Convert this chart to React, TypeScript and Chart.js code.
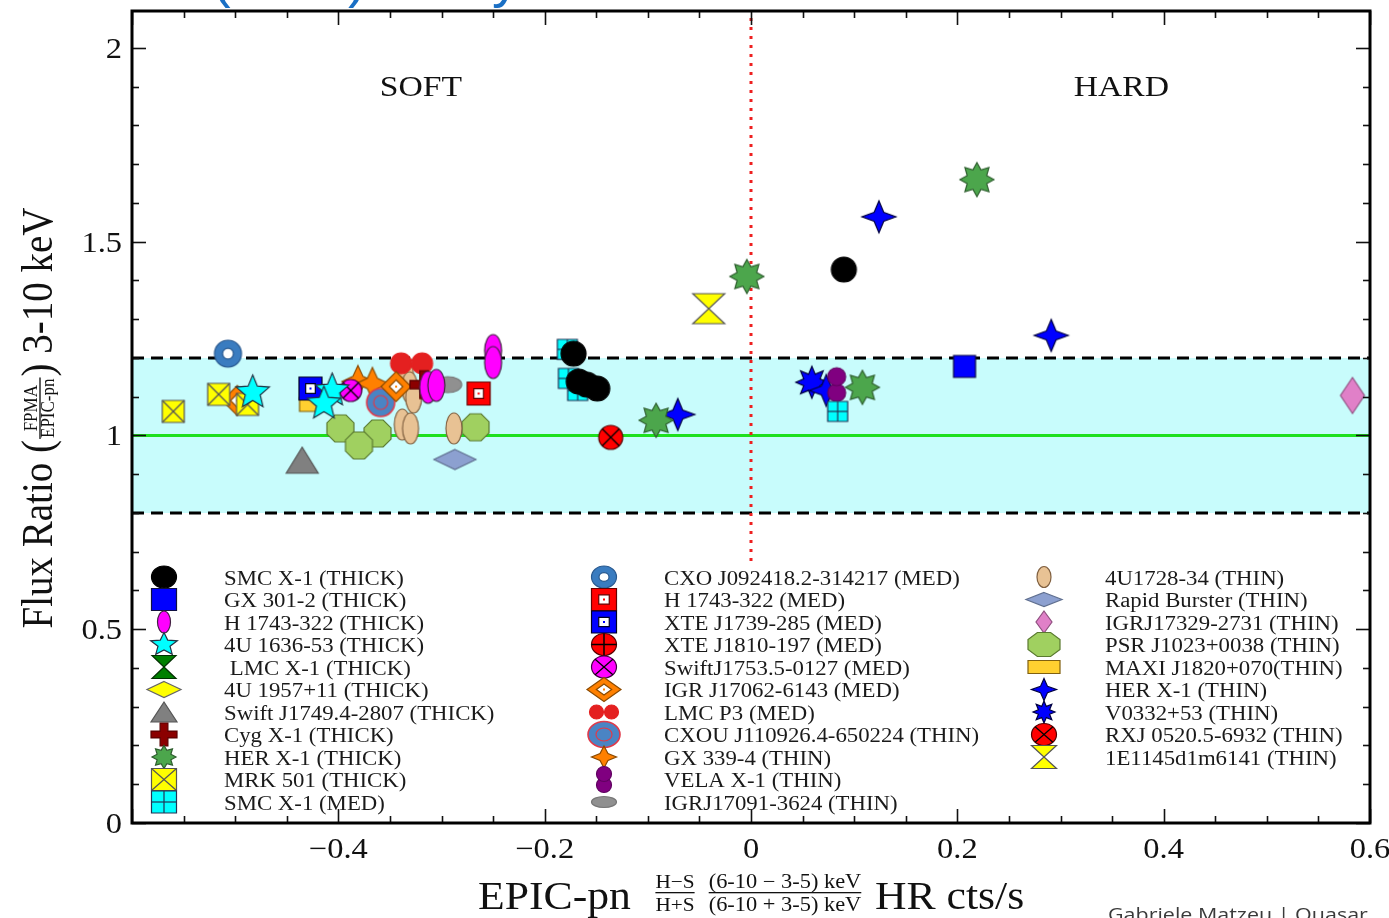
import React, { useEffect, useRef } from 'react';
import { Chart, registerables } from 'chart.js';

Chart.register(...registerables);

const W = 1389;
const H = 918;
const SERIF = "'Liberation Serif', 'Times New Roman', serif";
const SANS = "'Open Sans', 'Noto Sans', sans-serif";
const STRETCH = 1.12;

// Hardness ratio (x) vs FPMA / EPIC-pn flux ratio in 3-10 keV (y)
const smcX1Thick = [{ x: 0.09, y: 1.428 }, { x: -0.172, y: 1.211 }, { x: -0.167, y: 1.139 }, { x: -0.159, y: 1.131 }, { x: -0.149, y: 1.121 }];
const gx3012Thick = [{ x: 0.207, y: 1.178 }];
const h1743Thick = [{ x: -0.313, y: 1.124 }, { x: -0.305, y: 1.129 }, { x: -0.25, y: 1.219 }, { x: -0.25, y: 1.188 }];
const u1636Thick = [{ x: -0.483, y: 1.111 }, { x: -0.406, y: 1.116 }, { x: -0.414, y: 1.082 }];
const lmcX1Thick: { x: number; y: number }[] = [];
const u1957Thick: { x: number; y: number }[] = [];
const swiftJ1749Thick = [{ x: -0.435, y: 0.936 }];
const cygX1Thick = [{ x: -0.317, y: 1.131 }];
const herX1Thick = [{ x: 0.219, y: 1.66 }, { x: -0.004, y: 1.41 }, { x: -0.092, y: 1.039 }, { x: 0.108, y: 1.124 }];
const mrk501Thick = [{ x: -0.56, y: 1.062 }, { x: -0.516, y: 1.106 }, { x: -0.488, y: 1.08 }];
const smcX1Med = [{ x: -0.178, y: 1.222 }, { x: -0.177, y: 1.147 }, { x: -0.168, y: 1.116 }, { x: 0.084, y: 1.062 }];
const cxoJ0924Med = [{ x: -0.507, y: 1.211 }];
const h1743Med = [{ x: -0.264, y: 1.108 }];
const xteJ1739Med = [{ x: -0.427, y: 1.121 }];
const xteJ1810Med: { x: number; y: number }[] = [];
const swiftJ1753Med = [{ x: -0.388, y: 1.116 }];
const igrJ17062Med = [{ x: -0.498, y: 1.09 }, { x: -0.344, y: 1.126 }];
const lmcP3Med = [{ x: -0.329, y: 1.186 }];
const cxouJ1109Thin = [{ x: -0.359, y: 1.085 }];
const gx3394Thin = [{ x: -0.381, y: 1.139 }, { x: -0.367, y: 1.134 }];
const velaX1Thin = [{ x: 0.083, y: 1.131 }];
const igrJ17091Thin = [{ x: -0.294, y: 1.131 }];
const u1728Thin = [{ x: -0.335, y: 1.157 }, { x: -0.331, y: 1.124 }, { x: -0.327, y: 1.098 }, { x: -0.338, y: 1.028 }, { x: -0.33, y: 1.018 }, { x: -0.288, y: 1.018 }];
const rapidBursterThin = [{ x: -0.287, y: 0.938 }];
const igrJ17329Thin = [{ x: 0.583, y: 1.103 }];
const psrJ1023Thin = [{ x: -0.398, y: 1.018 }, { x: -0.362, y: 1.005 }, { x: -0.38, y: 0.974 }, { x: -0.267, y: 1.021 }];
const maxiJ1820Thin = [{ x: -0.425, y: 1.08 }];
const herX1Thin = [{ x: 0.124, y: 1.564 }, { x: 0.291, y: 1.258 }, { x: -0.071, y: 1.054 }, { x: 0.073, y: 1.116 }];
const v0332Thin = [{ x: 0.059, y: 1.137 }];
const rxj0520Thin = [{ x: -0.136, y: 0.995 }];
const e1145Thin = [{ x: -0.041, y: 1.327 }];

const seriesNames = [
  'SMC X-1 (THICK)', 'GX 301-2 (THICK)', 'H 1743-322 (THICK)', '4U 1636-53 (THICK)', ' LMC X-1 (THICK)',
  '4U 1957+11 (THICK)', 'Swift J1749.4-2807 (THICK)', 'Cyg X-1 (THICK)', 'HER X-1 (THICK)', 'MRK 501 (THICK)',
  'SMC X-1 (MED)', 'CXO J092418.2-314217 (MED)', 'H 1743-322 (MED)', 'XTE J1739-285 (MED)', 'XTE J1810-197 (MED)',
  'SwiftJ1753.5-0127 (MED)', 'IGR J17062-6143 (MED)', 'LMC P3 (MED)', 'CXOU J110926.4-650224 (THIN)', 'GX 339-4 (THIN)',
  'VELA X-1 (THIN)', 'IGRJ17091-3624 (THIN)', '4U1728-34 (THIN)', 'Rapid Burster (THIN)', 'IGRJ17329-2731 (THIN)',
  'PSR J1023+0038 (THIN)', 'MAXI J1820+070(THIN)', 'HER X-1 (THIN)', 'V0332+53 (THIN)', 'RXJ 0520.5-6932 (THIN)',
  '1E1145d1m6141 (THIN)',
];

const seriesPoints = [
  smcX1Thick, gx3012Thick, h1743Thick, u1636Thick, lmcX1Thick, u1957Thick, swiftJ1749Thick, cygX1Thick, herX1Thick,
  mrk501Thick, smcX1Med, cxoJ0924Med, h1743Med, xteJ1739Med, xteJ1810Med, swiftJ1753Med, igrJ17062Med, lmcP3Med,
  cxouJ1109Thin, gx3394Thin, velaX1Thin, igrJ17091Thin, u1728Thin, rapidBursterThin, igrJ17329Thin, psrJ1023Thin,
  maxiJ1820Thin, herX1Thin, v0332Thin, rxj0520Thin, e1145Thin,
];

// Reference levels
const bandLow = 0.8;
const bandHigh = 1.2;
const unity = 1;
const softHardBoundary = 0;
const boundaryTop = 2.1;
const boundaryBottom = 0.665;

const xMin = -0.6;
const xMax = 0.6;
const yMin = 0;
const yMax = 2.095;
const xTickValues = [-0.4, -0.2, 0, 0.2, 0.4, 0.6];
const yTickValues = [0, 0.5, 1, 1.5, 2];
const regionLabels = [
  { text: 'SOFT', x: -0.32, y: 1.875 },
  { text: 'HARD', x: 0.359, y: 1.875 },
];

type Marker = {
  kind: string; fill: string; stroke: string; w: number; h: number; lw: number; lh: number; inner?: number;
};

const markers: Marker[] = [
  { kind: 'circle', fill: '#000000', stroke: '#000000', w: 25, h: 25, lw: 25, lh: 22 },
  { kind: 'square', fill: '#0000ff', stroke: '#101040', w: 22, h: 22, lw: 25, lh: 22 },
  { kind: 'ellipse', fill: '#ff00ff', stroke: '#402040', w: 17, h: 32, lw: 13, lh: 22 },
  { kind: 'star5', fill: '#00ffff', stroke: '#223344', w: 35, h: 35, lw: 28, lh: 24 },
  { kind: 'hourglass', fill: '#008000', stroke: '#003000', w: 24, h: 24, lw: 24, lh: 23 },
  { kind: 'diamond', fill: '#ffff00', stroke: '#666666', w: 34, h: 16, lw: 34, lh: 16 },
  { kind: 'triangle', fill: '#808080', stroke: '#555555', w: 32, h: 26, lw: 26, lh: 20 },
  { kind: 'plus', fill: '#8b0000', stroke: '#5a0000', w: 28, h: 28, lw: 26, lh: 23 },
  { kind: 'burst8', fill: '#4ca64c', stroke: '#2e5e2e', w: 34, h: 34, lw: 24, lh: 23, inner: 0.62 },
  { kind: 'squareX', fill: '#ffff00', stroke: '#555555', w: 22, h: 22, lw: 25, lh: 22 },
  { kind: 'squareGrid', fill: '#00ffff', stroke: '#223355', w: 20, h: 20, lw: 25, lh: 22 },
  { kind: 'ring', fill: '#3a7cc0', stroke: '#2a5a90', w: 27, h: 27, lw: 25, lh: 22 },
  { kind: 'squareHole', fill: '#ff0000', stroke: '#660000', w: 23, h: 23, lw: 25, lh: 22 },
  { kind: 'squareHole', fill: '#0000ff', stroke: '#000022', w: 23, h: 23, lw: 25, lh: 22 },
  { kind: 'circlePlus', fill: '#ff0000', stroke: '#550000', w: 24, h: 24, lw: 25, lh: 22 },
  { kind: 'circleX', fill: '#ff00ff', stroke: '#440044', w: 22, h: 22, lw: 25, lh: 22 },
  { kind: 'diamondHole', fill: '#ff8000', stroke: '#8a4a00', w: 30, h: 30, lw: 34, lh: 24 },
  { kind: 'twinH', fill: '#e42020', stroke: '#e42020', w: 42, h: 21, lw: 29, lh: 14 },
  { kind: 'target', fill: '#4a84c4', stroke: '#e03a4a', w: 28, h: 28, lw: 32, lh: 26 },
  { kind: 'star4', fill: '#ff8000', stroke: '#8a4a00', w: 32, h: 32, lw: 25, lh: 22, inner: 0.45 },
  { kind: 'twinV', fill: '#800080', stroke: '#600060', w: 18, h: 34, lw: 15, lh: 26 },
  { kind: 'ellipse', fill: '#909090', stroke: '#777777', w: 28, h: 16, lw: 25, lh: 11 },
  { kind: 'ellipse', fill: '#e8c294', stroke: '#806040', w: 16, h: 31, lw: 14, lh: 21 },
  { kind: 'diamond', fill: '#8ca0d0', stroke: '#607090', w: 42, h: 20, lw: 36, lh: 14 },
  { kind: 'diamond', fill: '#e080c8', stroke: '#905080', w: 24, h: 36, lw: 16, lh: 22 },
  { kind: 'octagon', fill: '#a0d060', stroke: '#5a7a30', w: 27, h: 27, lw: 32, lh: 24 },
  { kind: 'rect', fill: '#ffd030', stroke: '#806010', w: 26, h: 14, lw: 32, lh: 13 },
  { kind: 'star4', fill: '#0000ff', stroke: '#000040', w: 34, h: 32, lw: 25, lh: 22, inner: 0.4 },
  { kind: 'burst8', fill: '#0000ff', stroke: '#000040', w: 32, h: 32, lw: 22, lh: 22, inner: 0.55 },
  { kind: 'circleX', fill: '#ff0000', stroke: '#550000', w: 24, h: 24, lw: 25, lh: 22 },
  { kind: 'hourglass', fill: '#ffff00', stroke: '#555555', w: 32, h: 30, lw: 25, lh: 23 },
];

function poly(ctx: CanvasRenderingContext2D, pts: number[][]) {
  ctx.beginPath();
  pts.forEach(([px, py], i) => (i ? ctx.lineTo(px, py) : ctx.moveTo(px, py)));
  ctx.closePath();
}

function starPts(cx: number, cy: number, rx: number, ry: number, n: number, inner: number, rot = -Math.PI / 2) {
  const pts: number[][] = [];
  for (let i = 0; i < 2 * n; i++) {
    const a = rot + (i * Math.PI) / n;
    const r = i % 2 === 0 ? 1 : inner;
    pts.push([cx + Math.cos(a) * rx * r, cy + Math.sin(a) * ry * r]);
  }
  return pts;
}

function ellipsePath(ctx: CanvasRenderingContext2D, cx: number, cy: number, rx: number, ry: number) {
  ctx.beginPath();
  ctx.ellipse(cx, cy, rx, ry, 0, 0, Math.PI * 2);
}

function drawMarker(ctx: CanvasRenderingContext2D, m: Marker, cx: number, cy: number, w: number, h: number) {
  const rx = w / 2;
  const ry = h / 2;
  ctx.save();
  ctx.lineWidth = 1.2;
  ctx.fillStyle = m.fill;
  ctx.strokeStyle = m.stroke;
  const fs = () => {
    ctx.fill();
    ctx.stroke();
  };
  const seg = (x1: number, y1: number, x2: number, y2: number) => {
    ctx.beginPath();
    ctx.moveTo(x1, y1);
    ctx.lineTo(x2, y2);
    ctx.stroke();
  };
  switch (m.kind) {
    case 'circle':
    case 'ellipse':
      ellipsePath(ctx, cx, cy, rx, ry);
      fs();
      break;
    case 'square':
    case 'rect':
      ctx.beginPath();
      ctx.rect(cx - rx, cy - ry, w, h);
      fs();
      break;
    case 'diamond':
      poly(ctx, [[cx, cy - ry], [cx + rx, cy], [cx, cy + ry], [cx - rx, cy]]);
      fs();
      break;
    case 'triangle':
      poly(ctx, [[cx, cy - ry], [cx + rx, cy + ry], [cx - rx, cy + ry]]);
      fs();
      break;
    case 'hourglass':
      poly(ctx, [[cx - rx, cy - ry], [cx + rx, cy - ry], [cx, cy], [cx + rx, cy + ry], [cx - rx, cy + ry], [cx, cy]]);
      fs();
      break;
    case 'plus': {
      const tx = w * 0.15;
      const ty = h * 0.15;
      poly(ctx, [
        [cx - tx, cy - ry], [cx + tx, cy - ry], [cx + tx, cy - ty], [cx + rx, cy - ty], [cx + rx, cy + ty],
        [cx + tx, cy + ty], [cx + tx, cy + ry], [cx - tx, cy + ry], [cx - tx, cy + ty], [cx - rx, cy + ty],
        [cx - rx, cy - ty], [cx - tx, cy - ty],
      ]);
      fs();
      break;
    }
    case 'star5':
      poly(ctx, starPts(cx, cy, rx, ry, 5, 0.45));
      fs();
      break;
    case 'star4':
      poly(ctx, starPts(cx, cy, rx, ry, 4, m.inner ?? 0.4));
      fs();
      break;
    case 'burst8':
      poly(ctx, starPts(cx, cy, rx, ry, 8, m.inner ?? 0.6));
      fs();
      break;
    case 'octagon': {
      const k = 1 / Math.cos(Math.PI / 8);
      const pts: number[][] = [];
      for (let i = 0; i < 8; i++) {
        const a = Math.PI / 8 + (i * Math.PI) / 4;
        pts.push([cx + Math.cos(a) * rx * k, cy + Math.sin(a) * ry * k]);
      }
      poly(ctx, pts);
      fs();
      break;
    }
    case 'squareX':
      ctx.beginPath();
      ctx.rect(cx - rx, cy - ry, w, h);
      fs();
      seg(cx - rx, cy - ry, cx + rx, cy + ry);
      seg(cx + rx, cy - ry, cx - rx, cy + ry);
      break;
    case 'squareGrid':
      ctx.beginPath();
      ctx.rect(cx - rx, cy - ry, w, h);
      fs();
      seg(cx, cy - ry, cx, cy + ry);
      seg(cx - rx, cy, cx + rx, cy);
      break;
    case 'ring':
      ellipsePath(ctx, cx, cy, rx, ry);
      fs();
      ctx.fillStyle = '#ffffff';
      ellipsePath(ctx, cx, cy, rx * 0.4, ry * 0.4);
      fs();
      break;
    case 'squareHole':
      ctx.beginPath();
      ctx.rect(cx - rx, cy - ry, w, h);
      fs();
      ctx.fillStyle = '#ffffff';
      ctx.beginPath();
      ctx.rect(cx - rx * 0.42, cy - ry * 0.42, w * 0.42, h * 0.42);
      fs();
      ctx.fillStyle = m.fill;
      ctx.fillRect(cx - 1, cy - 1, 2, 2);
      break;
    case 'circlePlus':
      ellipsePath(ctx, cx, cy, rx, ry);
      fs();
      ctx.strokeStyle = '#000000';
      ctx.lineWidth = 1.5;
      seg(cx - rx, cy, cx + rx, cy);
      seg(cx, cy - ry, cx, cy + ry);
      break;
    case 'circleX': {
      ellipsePath(ctx, cx, cy, rx, ry);
      fs();
      const d = Math.SQRT1_2;
      ctx.strokeStyle = '#000000';
      ctx.lineWidth = 1.2;
      seg(cx - rx * d, cy - ry * d, cx + rx * d, cy + ry * d);
      seg(cx + rx * d, cy - ry * d, cx - rx * d, cy + ry * d);
      break;
    }
    case 'diamondHole':
      poly(ctx, [[cx, cy - ry], [cx + rx, cy], [cx, cy + ry], [cx - rx, cy]]);
      fs();
      ctx.fillStyle = '#ffffff';
      poly(ctx, [[cx, cy - ry * 0.45], [cx + rx * 0.45, cy], [cx, cy + ry * 0.45], [cx - rx * 0.45, cy]]);
      fs();
      ctx.fillStyle = m.fill;
      ctx.fillRect(cx - 1, cy - 1, 2, 2);
      break;
    case 'twinH': {
      const r = ry;
      ellipsePath(ctx, cx - rx + r, cy, r, r);
      fs();
      ellipsePath(ctx, cx + rx - r, cy, r, r);
      fs();
      break;
    }
    case 'twinV': {
      const r = rx;
      ellipsePath(ctx, cx, cy + ry - r, r, r);
      fs();
      ellipsePath(ctx, cx, cy - ry + r, r, r);
      fs();
      break;
    }
    case 'target':
      ellipsePath(ctx, cx, cy, rx, ry);
      ctx.fill();
      ctx.lineWidth = 1.6;
      ctx.stroke();
      ctx.lineWidth = 1.2;
      ellipsePath(ctx, cx, cy, rx * 0.5, ry * 0.5);
      ctx.stroke();
      break;
    default:
      break;
  }
  ctx.restore();
}

function markerCanvas(m: Marker) {
  const c = document.createElement('canvas');
  c.width = m.w + 6;
  c.height = m.h + 6;
  const g = c.getContext('2d');
  if (g) drawMarker(g, m, c.width / 2, c.height / 2, m.w, m.h);
  return c;
}

// Text with the horizontal stretch used throughout the figure
function wideText(
  ctx: CanvasRenderingContext2D, text: string, x: number, y: number, font: string,
  align: 'left' | 'center' | 'right' = 'left', color = '#111111', sx = STRETCH,
) {
  ctx.save();
  ctx.font = font;
  ctx.fillStyle = color;
  ctx.textBaseline = 'alphabetic';
  ctx.textAlign = 'left';
  const w = ctx.measureText(text).width * sx;
  const left = align === 'left' ? x : align === 'center' ? x - w / 2 : x - w;
  ctx.translate(left, y);
  ctx.scale(sx, 1);
  ctx.fillText(text, 0, 0);
  ctx.restore();
  return w;
}

function fmtTick(v: number) {
  if (Math.abs(v) < 1e-9) return '0';
  const s = Number.isInteger(v) ? String(Math.abs(v)) : Math.abs(v).toFixed(1);
  return v < 0 ? '\u2212' + s : s;
}

const decorPlugin = {
  id: 'decor',
  afterDraw(chart: any) {
    const { ctx, chartArea: a, scales } = chart;
    const xs = scales.x;
    const ys = scales.y;
    ctx.save();

    // ticks on all four sides
    ctx.strokeStyle = '#111111';
    ctx.lineWidth = 1.6;
    const seg = (x1: number, y1: number, x2: number, y2: number) => {
      ctx.beginPath();
      ctx.moveTo(x1, y1);
      ctx.lineTo(x2, y2);
      ctx.stroke();
    };
    for (let i = 0; i <= 24; i++) {
      const v = xMin + i * 0.05;
      const len = i % 4 === 0 ? 14 : 7;
      const px = Math.round(xs.getPixelForValue(v)) + 0.5;
      seg(px, a.bottom, px, a.bottom - len);
      seg(px, a.top, px, a.top + len);
    }
    for (let i = 0; i <= 20; i++) {
      const v = yMin + i * 0.1;
      const len = i % 5 === 0 ? 14 : 7;
      const py = Math.round(ys.getPixelForValue(v)) + 0.5;
      seg(a.left, py, a.left + len, py);
      seg(a.right, py, a.right - len, py);
    }

    // frame
    ctx.strokeStyle = '#000000';
    ctx.lineWidth = 3;
    ctx.strokeRect(a.left, a.top, a.right - a.left, a.bottom - a.top);

    // tick labels
    const tickFont = `29px ${SERIF}`;
    xTickValues.forEach((v) => wideText(ctx, fmtTick(v), xs.getPixelForValue(v), a.bottom + 35, tickFont, 'center'));
    yTickValues.forEach((v) => wideText(ctx, fmtTick(v), a.left - 10, ys.getPixelForValue(v) + 10, tickFont, 'right'));

    // region labels
    regionLabels.forEach((r) =>
      wideText(ctx, r.text, xs.getPixelForValue(r.x), ys.getPixelForValue(r.y), `30px ${SERIF}`, 'center'),
    );

    // legend, three columns
    const colMarkerX = [164, 604, 1044];
    const colTextX = [224, 664, 1105];
    const perCol = [11, 11, 9];
    let idx = 0;
    perCol.forEach((count, col) => {
      for (let r = 0; r < count; r++, idx++) {
        const rowY = 577 + r * 22.5;
        const m = markers[idx];
        drawMarker(ctx, m, colMarkerX[col], rowY, m.lw, m.lh);
        wideText(ctx, seriesNames[idx], colTextX[col], rowY + 7.5, `20px ${SERIF}`, 'left', '#1a1a1a', 1.14);
      }
    });

    // x-axis title with its two fractions
    const big = `39px ${SERIF}`;
    const small = `19px ${SERIF}`;
    const base = 909;
    wideText(ctx, 'EPIC-pn', 478, base, big, 'left', '#111111');
    const frac = (num: string, den: string, cx: number, font: string) => {
      const w1 = wideText(ctx, num, cx, 888, font, 'center', '#111111');
      const w2 = wideText(ctx, den, cx, 911, font, 'center', '#111111');
      const wb = Math.max(w1, w2);
      ctx.fillStyle = '#111111';
      ctx.fillRect(cx - wb / 2, 892, wb, 1.3);
    };
    frac('H\u2212S', 'H+S', 675, small);
    frac('(6-10 \u2212 3-5) keV', '(6-10 + 3-5) keV', 785, `20px ${SERIF}`);
    wideText(ctx, 'HR cts/s', 875, base, big, 'left', '#111111');

    // y-axis title, rotated
    ctx.save();
    ctx.translate(40, 418);
    ctx.rotate(-Math.PI / 2);
    ctx.scale(1, STRETCH);
    ctx.fillStyle = '#111111';
    ctx.textBaseline = 'alphabetic';
    ctx.textAlign = 'left';
    const fBig = `39px ${SERIF}`;
    const fSmall = `17px ${SERIF}`;
    ctx.font = fBig;
    const p1 = 'Flux Ratio ';
    const p2 = '(';
    const p4 = ')';
    const p5 = ' 3-10 keV';
    const w1 = ctx.measureText(p1).width;
    const w2 = ctx.measureText(p2).width;
    const w4 = ctx.measureText(p4).width;
    const w5 = ctx.measureText(p5).width;
    ctx.font = fSmall;
    const wn = ctx.measureText('FPMA').width;
    const wd = ctx.measureText('EPIC-pn').width;
    const wf = Math.max(wn, wd) + 4;
    const total = w1 + w2 + wf + w4 + w5;
    let cx = -total / 2;
    const bl = 11;
    ctx.font = fBig;
    ctx.fillText(p1, cx, bl);
    cx += w1;
    ctx.fillText(p2, cx, bl);
    cx += w2;
    ctx.font = fSmall;
    ctx.fillText('FPMA', cx + (wf - wn) / 2, -2.5);
    ctx.fillText('EPIC-pn', cx + (wf - wd) / 2, 12.5);
    ctx.fillRect(cx + 1, -0.6, wf - 2, 1.2);
    cx += wf;
    ctx.font = fBig;
    ctx.fillText(p4, cx, bl);
    cx += w4;
    ctx.fillText(p5, cx, bl);
    ctx.restore();

    // credit line
    wideText(ctx, 'Gabriele Matzeu | Quasar', 1108, 921, `19px ${SANS}`, 'left', '#3a3a3a', 1.13);

    // header glyphs running above the frame
    ctx.font = `56px 'Liberation Sans', sans-serif`;
    ctx.fillStyle = '#1a6fc4';
    ctx.textBaseline = 'alphabetic';
    ctx.fillText('(', 212, -4);
    ctx.fillText(')', 348, -4);
    ctx.fillText('y', 492, -4);

    ctx.restore();
  },
};

export default function App() {
  const canvasRef = useRef<HTMLCanvasElement | null>(null);

  useEffect(() => {
    document.body.style.margin = '0';
    const canvas = canvasRef.current;
    if (!canvas) return undefined;

    const pointSets = seriesPoints.map((pts, i) => ({
      label: seriesNames[i],
      data: pts,
      pointStyle: markerCanvas(markers[i]) as any,
      pointRadius: 10,
      pointHoverRadius: 10,
      showLine: false,
      order: 0,
    }));

    const guide = (data: { x: number; y: number }[], extra: any) => ({
      label: '',
      data,
      showLine: true,
      pointRadius: 0,
      pointHoverRadius: 0,
      fill: false,
      ...extra,
    });

    const guideSets = [
      guide([{ x: xMin, y: bandHigh }, { x: xMax, y: bandHigh }], {
        borderColor: '#000000', borderWidth: 3, borderDash: [12, 7], fill: { value: bandLow },
        backgroundColor: '#c8fcfc', order: 14,
      }),
      guide([{ x: xMin, y: bandLow }, { x: xMax, y: bandLow }], {
        borderColor: '#000000', borderWidth: 3, borderDash: [12, 7], order: 13,
      }),
      guide([{ x: xMin, y: unity }, { x: xMax, y: unity }], {
        borderColor: '#1ee01e', borderWidth: 3, order: 12,
      }),
      guide([{ x: softHardBoundary, y: boundaryTop }, { x: softHardBoundary, y: boundaryBottom }], {
        borderColor: '#ee2020', borderWidth: 3, borderDash: [3, 6], order: 11,
      }),
    ];

    const chart = new Chart(canvas, {
      type: 'scatter',
      data: { datasets: [...pointSets, ...guideSets] as any },
      options: {
        responsive: false,
        animation: false,
        devicePixelRatio: 1,
        layout: { padding: { left: 0, right: 19, top: 10, bottom: 0 } },
        plugins: { legend: { display: false }, tooltip: { enabled: false } },
        scales: {
          x: {
            type: 'linear', min: xMin, max: xMax,
            grid: { display: false, drawTicks: false }, border: { display: false }, ticks: { display: false },
            afterFit: (s: any) => { s.height = 95; },
          },
          y: {
            type: 'linear', min: yMin, max: yMax,
            grid: { display: false, drawTicks: false }, border: { display: false }, ticks: { display: false },
            afterFit: (s: any) => { s.width = 132; },
          },
        },
      } as any,
      plugins: [decorPlugin],
    });

    return () => chart.destroy();
  }, []);

  return (
    <div style={{ width: W, height: H, background: '#ffffff' }}>
      <canvas ref={canvasRef} width={W} height={H} style={{ display: 'block' }} />
    </div>
  );
}
